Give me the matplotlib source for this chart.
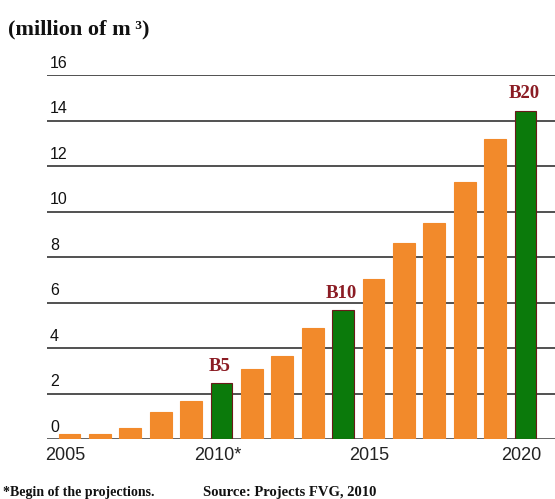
import matplotlib.pyplot as plt
from matplotlib.transforms import offset_copy, ScaledTranslation

# biogas volume per year (million m3)
years = list(range(2005, 2021))
values = [0.2, 0.2, 0.47, 1.2, 1.68, 2.45, 3.06, 3.66, 4.89, 5.67,
          7.05, 8.6, 9.5, 11.3, 13.17, 14.43]
milestones = {2010: "B5", 2014: "B10", 2020: "B20"}
yticks = [0, 2, 4, 6, 8, 10, 12, 14, 16]
xticks = [2005, 2010, 2015, 2020]
xlabels = ["2005", "2010*", "2015", "2020"]

orange = "#F28A2B"
green = "#0B7A0B"
dark_red = "#8B1C24"

fig = plt.figure(figsize=(5.55, 4.99), dpi=100)
ax = fig.add_axes([47 / 555, 60 / 499, 508 / 555, 364 / 499])

colors = [green if y in milestones else orange for y in years]
edges = ["#6B1A1A" if y in milestones else orange for y in years]
ax.bar(years, values, width=0.72, color=colors, edgecolor=edges,
       linewidth=0.8, zorder=3)

# horizontal rules with the value written just above each one
lab_tr = offset_copy(ax.get_yaxis_transform(), fig=fig, x=0, y=3, units="points")
for v in yticks:
    if v == 0:
        ax.axhline(v, color="#555555", lw=2.0, zorder=2)
    else:
        ax.axhline(v, color="#333333", lw=1.2, zorder=1)
    ax.text(0.006, v, str(v), transform=lab_tr, ha="left", va="bottom",
            fontsize=11.5, family="Liberation Sans", color="#111111")

for y, v in zip(years, values):
    if y in milestones:
        ax.annotate(milestones[y], (y, v), xytext=(-1, 6), textcoords="offset points",
                    ha="center", va="bottom", fontsize=13.5, fontweight="bold",
                    family="Liberation Serif", color=dark_red)

ax.set_xlim(2004.26, 2020.97)
ax.set_ylim(0, 16)
ax.set_yticks([])
ax.set_xticks(xticks)
ax.set_xticklabels(xlabels, fontsize=13, family="Liberation Sans", color="#222222")
ax.tick_params(axis="x", length=0, pad=6)
shift = ScaledTranslation(-4 / 100, 0, fig.dpi_scale_trans)
for lab in ax.get_xticklabels():
    lab.set_transform(lab.get_transform() + shift)
for s in ax.spines.values():
    s.set_visible(False)

fig.text(8 / 555, 1 - 34 / 499, "(million of m\u2009\u00b3)", fontsize=16, fontweight="bold",
         family="Liberation Serif", color="#111111")
fig.text(3 / 555, 1 - 496 / 499, "*Begin of the projections.", fontsize=10,
         fontweight="bold", family="Liberation Serif", color="#111111")
fig.text(203 / 555, 1 - 496 / 499, "Source: Projects FVG, 2010", fontsize=10.5,
         fontweight="bold", family="Liberation Serif", color="#111111")

fig.savefig("out.png", dpi=100)
